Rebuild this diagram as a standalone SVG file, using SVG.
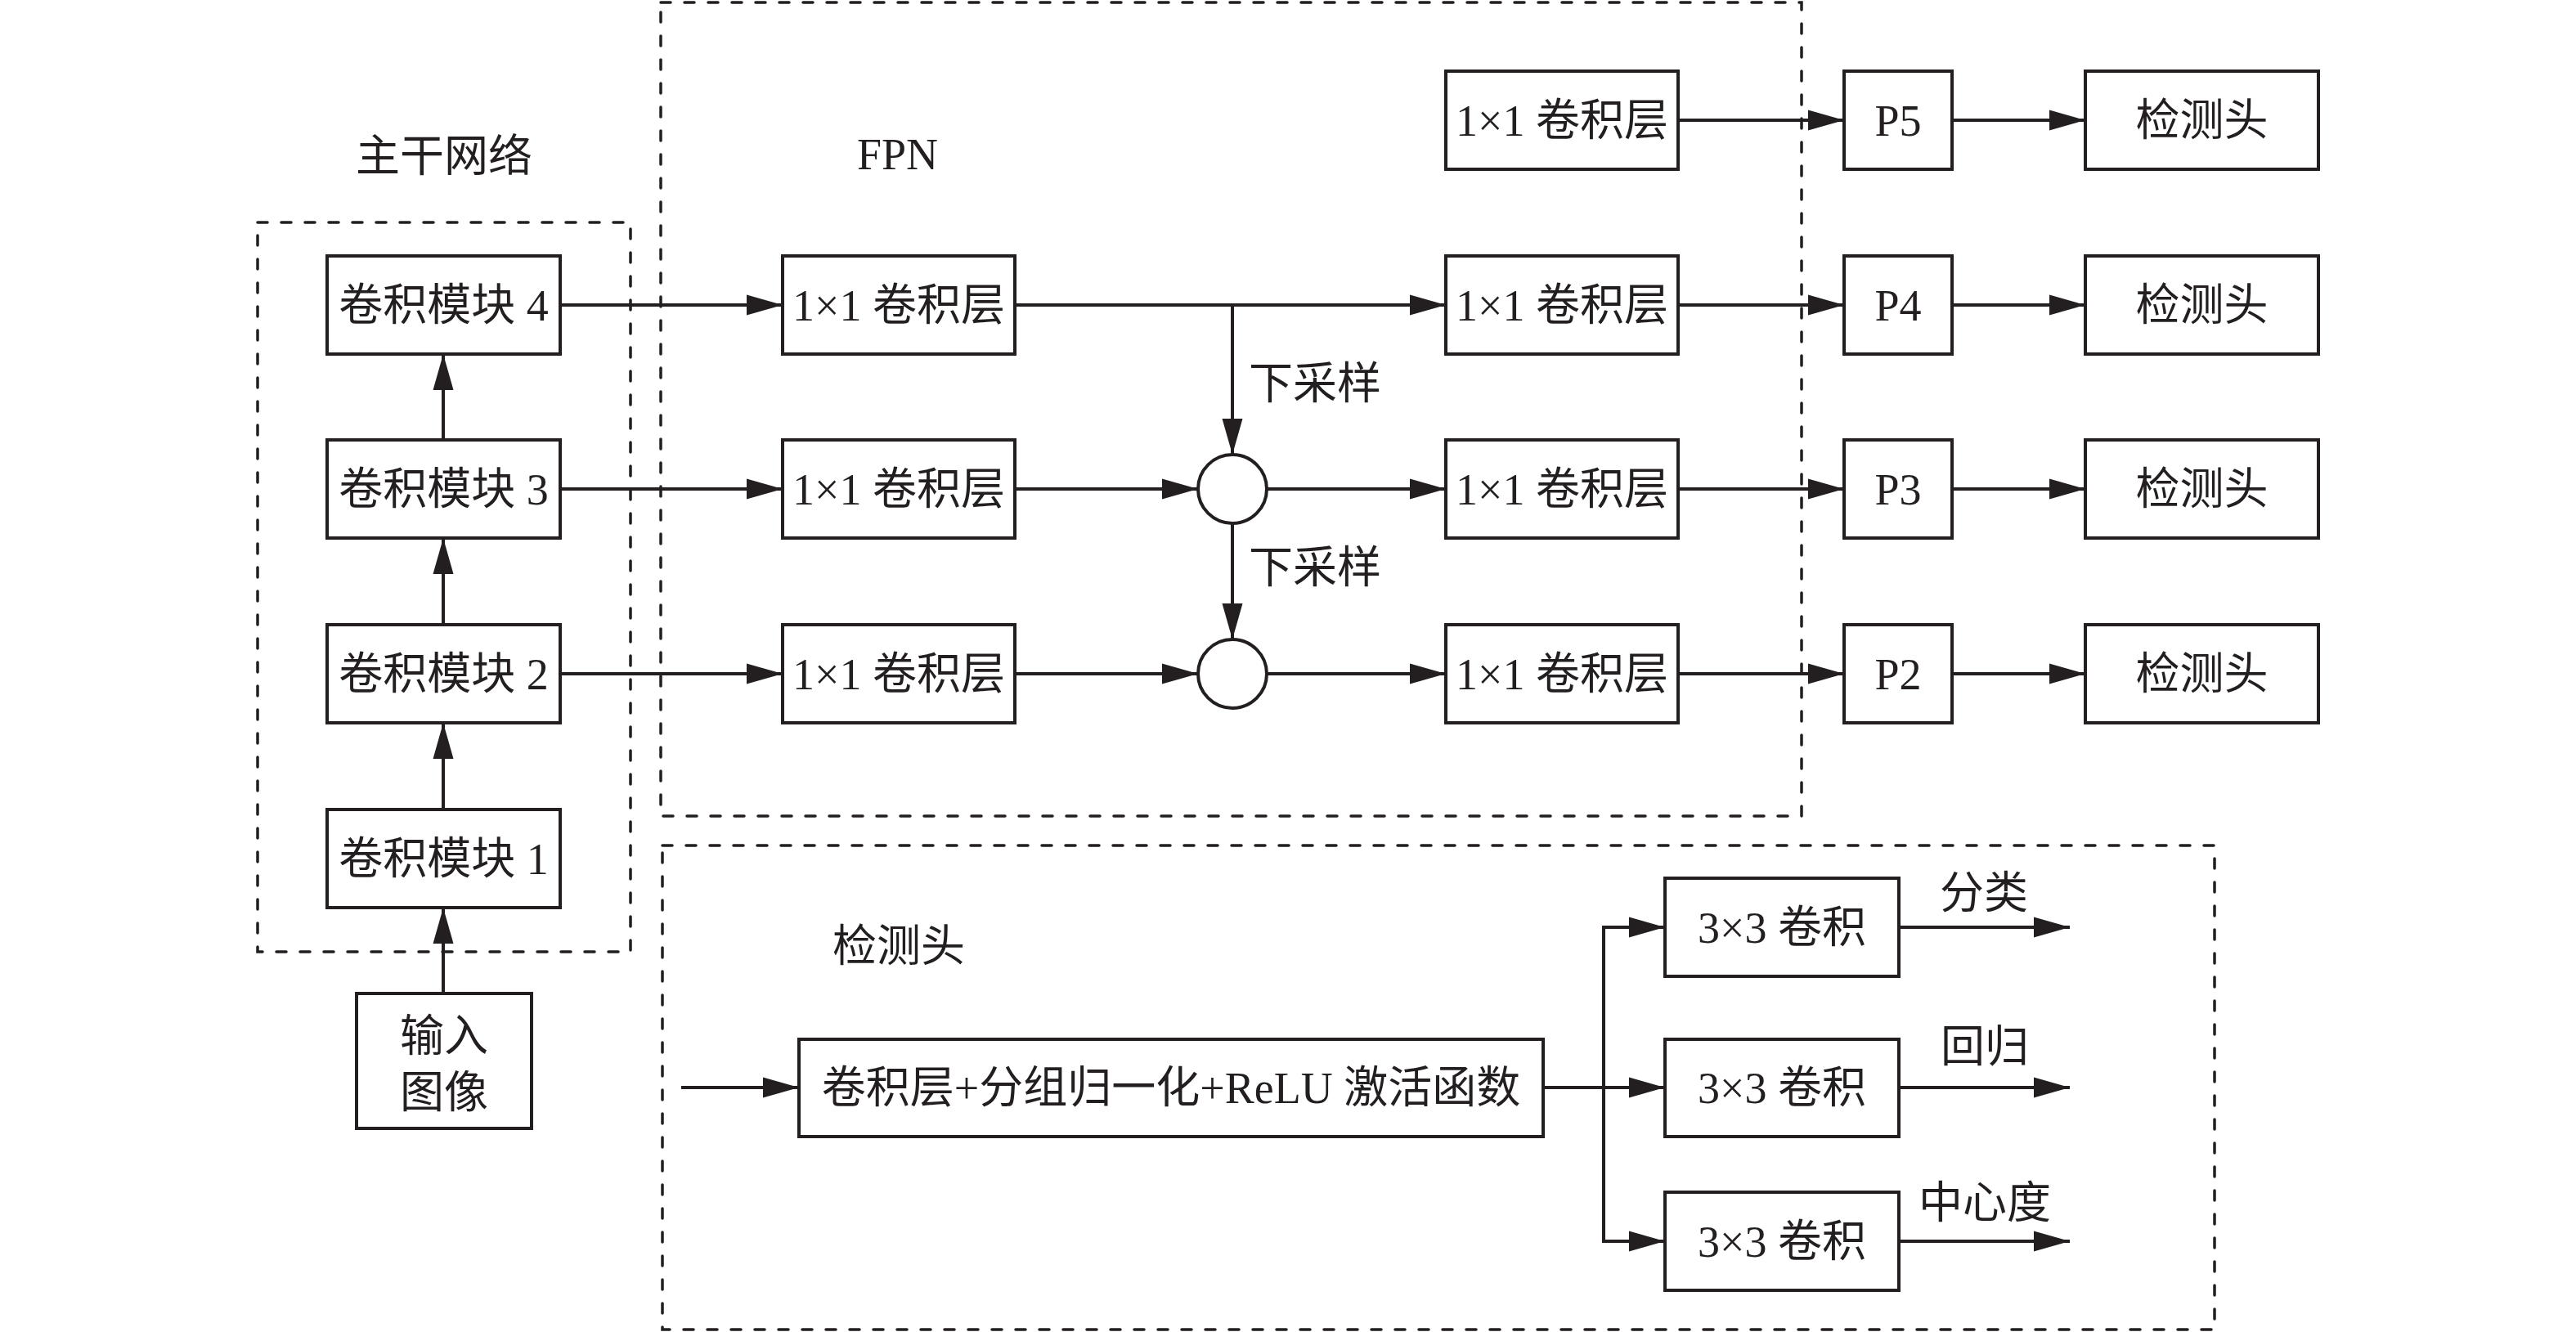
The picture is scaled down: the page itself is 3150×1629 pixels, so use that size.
<svg xmlns="http://www.w3.org/2000/svg" width="3150" height="1629" viewBox="0 0 3150 1629">
<defs>
<style>
.box{fill:#fff;stroke:#231f20;stroke-width:4}
.dash{fill:none;stroke:#231f20;stroke-width:3.5;stroke-dasharray:12 17;stroke-linecap:round}
.ln{fill:none;stroke:#231f20;stroke-width:4}
.arr{fill:none;stroke:#231f20;stroke-width:4;marker-end:url(#ah)}
text{font-family:"Liberation Serif","Noto Sans CJK SC",serif;font-size:54px;fill:#231f20}
.c{text-anchor:middle}
</style>
<marker id="ah" markerUnits="userSpaceOnUse" markerWidth="46" markerHeight="28" refX="44" refY="13" orient="auto">
<path d="M0,0.5 L44,13 L0,25.5 z" fill="#231f20"/>
</marker>
</defs>
<rect width="3150" height="1629" fill="#fff"/>

<g id="groups">
<rect class="dash" x="315" y="272" width="456" height="892"/>
<rect class="dash" x="808" y="3" width="1395" height="995"/>
<rect class="dash" x="810" y="1034" width="1898" height="592"/>
<text class="c" x="543" y="210">主干网络</text>
<text x="1048" y="207">FPN</text>
<text x="1018" y="1176">检测头</text>
</g>

<g id="connectors">
<line class="arr" x1="542" y1="1215" x2="542" y2="1110"/>
<line class="arr" x1="542" y1="990" x2="542" y2="884"/>
<line class="arr" x1="542" y1="764" x2="542" y2="658"/>
<line class="arr" x1="542" y1="538" x2="542" y2="433"/>
<line class="arr" x1="685" y1="373" x2="957" y2="373"/>
<line class="arr" x1="685" y1="598" x2="957" y2="598"/>
<line class="arr" x1="685" y1="824" x2="957" y2="824"/>
<line class="arr" x1="1241" y1="373" x2="1768" y2="373"/>
<line class="arr" x1="1507" y1="373" x2="1507" y2="556"/>
<line class="arr" x1="1241" y1="598" x2="1465" y2="598"/>
<line class="arr" x1="1549" y1="598" x2="1768" y2="598"/>
<line class="arr" x1="1507" y1="640" x2="1507" y2="782"/>
<line class="arr" x1="1241" y1="824" x2="1465" y2="824"/>
<line class="arr" x1="1549" y1="824" x2="1768" y2="824"/>
<line class="arr" x1="2052" y1="147" x2="2255" y2="147"/>
<line class="arr" x1="2052" y1="373" x2="2255" y2="373"/>
<line class="arr" x1="2052" y1="598" x2="2255" y2="598"/>
<line class="arr" x1="2052" y1="824" x2="2255" y2="824"/>
<line class="arr" x1="2387" y1="147" x2="2550" y2="147"/>
<line class="arr" x1="2387" y1="373" x2="2550" y2="373"/>
<line class="arr" x1="2387" y1="598" x2="2550" y2="598"/>
<line class="arr" x1="2387" y1="824" x2="2550" y2="824"/>
<line class="arr" x1="833" y1="1330" x2="977" y2="1330"/>
<line class="ln" x1="1887" y1="1330" x2="1961" y2="1330"/>
<line class="ln" x1="1961" y1="1132" x2="1961" y2="1520"/>
<line class="arr" x1="1959" y1="1134" x2="2036" y2="1134"/>
<line class="arr" x1="1961" y1="1330" x2="2036" y2="1330"/>
<line class="arr" x1="1959" y1="1518" x2="2036" y2="1518"/>
<line class="arr" x1="2322" y1="1134" x2="2531" y2="1134"/>
<line class="arr" x1="2322" y1="1330" x2="2531" y2="1330"/>
<line class="arr" x1="2322" y1="1518" x2="2531" y2="1518"/>
<text x="1527" y="488">下采样</text>
<text x="1527" y="713">下采样</text>
<text class="c" x="2426" y="1111">分类</text>
<text class="c" x="2427" y="1299">回归</text>
<text class="c" x="2427" y="1490">中心度</text>
</g>

<g id="input"><rect class="box" x="436" y="1215" width="214" height="165"/><text class="c" x="543" y="1286">输入</text><text class="c" x="543" y="1355">图像</text></g>
<g id="block1"><rect class="box" x="400" y="990" width="285" height="120"/><text class="c" x="542.5" y="1069">卷积模块 1</text></g>
<g id="block2"><rect class="box" x="400" y="764" width="285" height="120"/><text class="c" x="542.5" y="843">卷积模块 2</text></g>
<g id="block3"><rect class="box" x="400" y="538" width="285" height="120"/><text class="c" x="542.5" y="617">卷积模块 3</text></g>
<g id="block4"><rect class="box" x="400" y="313" width="285" height="120"/><text class="c" x="542.5" y="392">卷积模块 4</text></g>

<g id="lat4"><rect class="box" x="957" y="313" width="284" height="120"/><text class="c" x="1099" y="392">1×1 卷积层</text></g>
<g id="lat3"><rect class="box" x="957" y="538" width="284" height="120"/><text class="c" x="1099" y="617">1×1 卷积层</text></g>
<g id="lat2"><rect class="box" x="957" y="764" width="284" height="120"/><text class="c" x="1099" y="843">1×1 卷积层</text></g>

<g id="sum3"><circle class="box" cx="1507" cy="598" r="42"/></g>
<g id="sum2"><circle class="box" cx="1507" cy="824" r="42"/></g>

<g id="out5"><rect class="box" x="1768" y="87" width="284" height="120"/><text class="c" x="1910" y="166">1×1 卷积层</text></g>
<g id="out4"><rect class="box" x="1768" y="313" width="284" height="120"/><text class="c" x="1910" y="392">1×1 卷积层</text></g>
<g id="out3"><rect class="box" x="1768" y="538" width="284" height="120"/><text class="c" x="1910" y="617">1×1 卷积层</text></g>
<g id="out2"><rect class="box" x="1768" y="764" width="284" height="120"/><text class="c" x="1910" y="843">1×1 卷积层</text></g>

<g id="p5"><rect class="box" x="2255" y="87" width="132" height="120"/><text class="c" x="2321" y="166">P5</text></g>
<g id="p4"><rect class="box" x="2255" y="313" width="132" height="120"/><text class="c" x="2321" y="392">P4</text></g>
<g id="p3"><rect class="box" x="2255" y="538" width="132" height="120"/><text class="c" x="2321" y="617">P3</text></g>
<g id="p2"><rect class="box" x="2255" y="764" width="132" height="120"/><text class="c" x="2321" y="843">P2</text></g>

<g id="head5"><rect class="box" x="2550" y="87" width="285" height="120"/><text class="c" x="2692.5" y="166">检测头</text></g>
<g id="head4"><rect class="box" x="2550" y="313" width="285" height="120"/><text class="c" x="2692.5" y="392">检测头</text></g>
<g id="head3"><rect class="box" x="2550" y="538" width="285" height="120"/><text class="c" x="2692.5" y="617">检测头</text></g>
<g id="head2"><rect class="box" x="2550" y="764" width="285" height="120"/><text class="c" x="2692.5" y="843">检测头</text></g>

<g id="trunk"><rect class="box" x="977" y="1271" width="910" height="119"/><text class="c" x="1432" y="1349">卷积层+分组归一化+ReLU 激活函数</text></g>
<g id="cls"><rect class="box" x="2036" y="1074" width="286" height="120"/><text class="c" x="2179" y="1153">3×3 卷积</text></g>
<g id="reg"><rect class="box" x="2036" y="1271" width="286" height="119"/><text class="c" x="2179" y="1349">3×3 卷积</text></g>
<g id="ctr"><rect class="box" x="2036" y="1458" width="286" height="120"/><text class="c" x="2179" y="1537">3×3 卷积</text></g>
</svg>
